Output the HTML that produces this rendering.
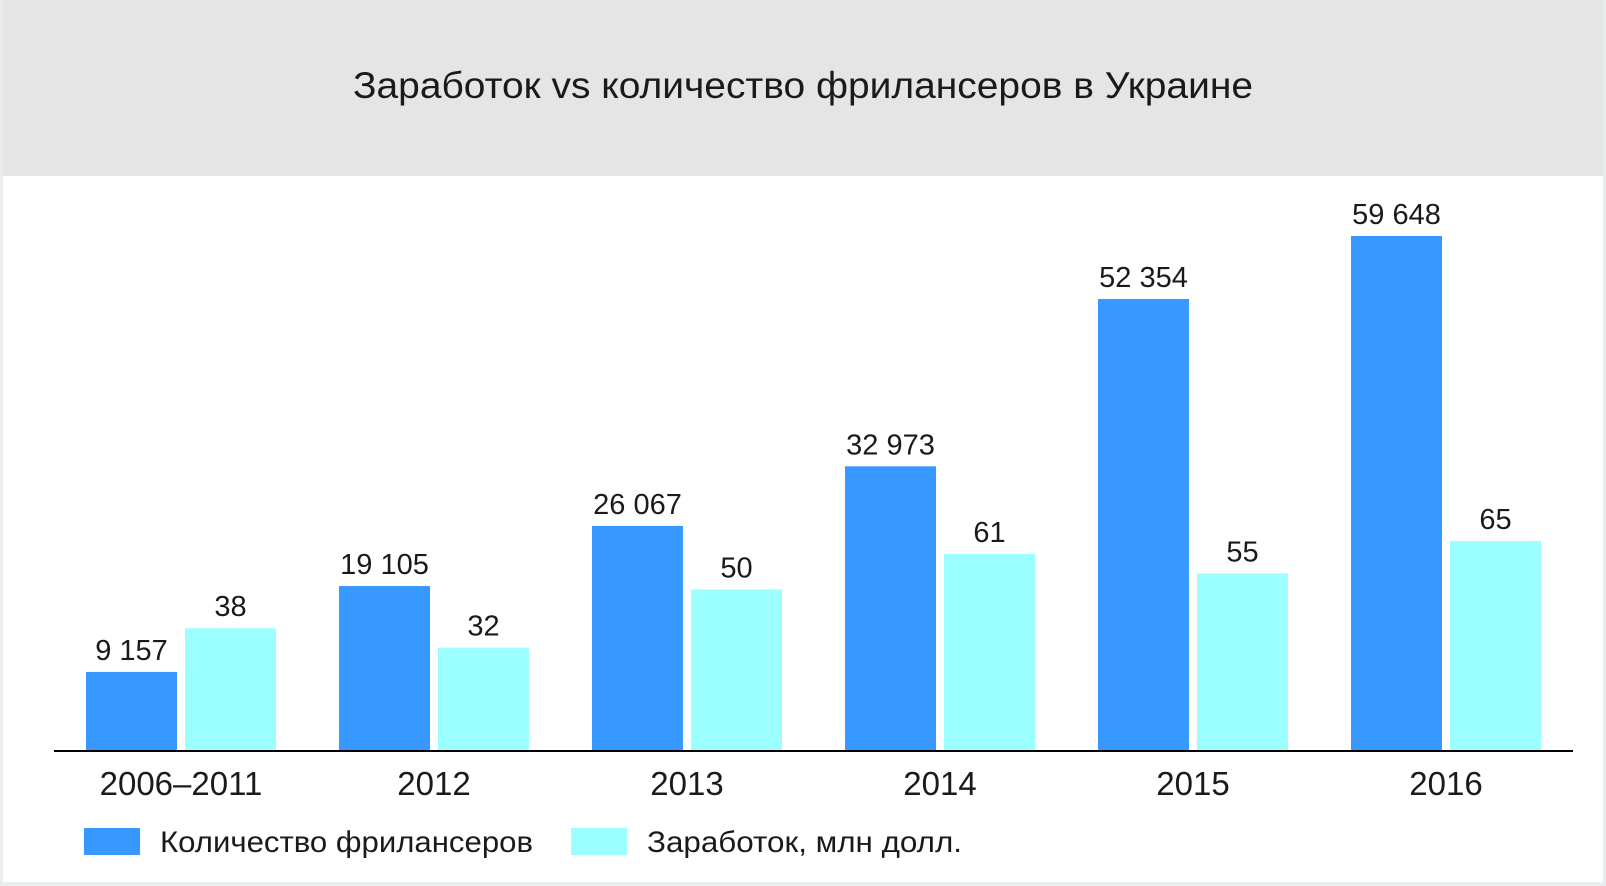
<!DOCTYPE html>
<html><head><meta charset="utf-8"><style>
body{margin:0;width:1606px;height:886px;background:#e9eded;overflow:hidden;font-family:"Liberation Sans",sans-serif}
#card{position:absolute;left:3px;top:0;width:1600px;height:882px;background:#fff}
</style></head><body>
<div id="card">
<svg id="chart" width="1600" height="882" style="position:absolute;left:0;top:0">
<rect x="0" y="0" width="1600" height="176" fill="#e5e5e5"/>
<text x="800" y="98" text-anchor="middle" font-size="37" textLength="900" lengthAdjust="spacingAndGlyphs" fill="#1a1a1a">Заработок vs количество фрилансеров в Украине</text>
<g id="bars"></g>
<line x1="51" y1="751" x2="1570" y2="751" stroke="#000" stroke-width="2"/>
<rect x="81" y="828" width="56" height="27" fill="#3798ff"/>
<text x="157" y="852" font-size="30" textLength="373" lengthAdjust="spacingAndGlyphs" fill="#1a1a1a">Количество фрилансеров</text>
<rect x="568" y="828" width="56" height="27" fill="#9cffff"/>
<text x="644" y="852" font-size="30" textLength="315" lengthAdjust="spacingAndGlyphs" fill="#1a1a1a">Заработок, млн долл.</text>
</svg>
</div>
<script>
const categories=["2006–2011","2012","2013","2014","2015","2016"];
const freelancers=[9157,19105,26067,32973,52354,59648];
const earnings=[38,32,50,61,55,65];
const freelancerLabels=["9 157","19 105","26 067","32 973","52 354","59 648"];
const NS="http://www.w3.org/2000/svg";
const g=document.getElementById('bars');
const baseY=751;
function yF(v){return baseY-v*(515/59648);}
function yE(v){return baseY-v*(210/65);}
function xGroup(i){return 83+i*253;}
const bw=91;
function mk(tag,attrs){const e=document.createElementNS(NS,tag);for(const k in attrs)e.setAttribute(k,attrs[k]);g.appendChild(e);return e;}
categories.forEach((c,i)=>{
 const x0=xGroup(i);
 const yb=yF(freelancers[i]);
 const b=mk('rect',{x:x0,y:yb,width:bw,height:baseY-yb,fill:'#3798ff'});
 
 
 const t=mk('text',{x:x0+bw/2,y:yb-12,'text-anchor':'middle','font-size':29,fill:'#1a1a1a'});
 t.textContent=freelancerLabels[i];
 
 
 const x1=x0+99;
 const ye=yE(earnings[i]);
 const b2=mk('rect',{x:x1,y:ye,width:bw,height:baseY-ye,fill:'#9cffff'});
 
 
 const t2=mk('text',{x:x1+bw/2,y:ye-12,'text-anchor':'middle','font-size':29,fill:'#1a1a1a'});
 t2.textContent=String(earnings[i]);
 
 
 const cl=mk('text',{x:x0+95,y:795,'text-anchor':'middle','font-size':33,fill:'#1a1a1a'});
 cl.textContent=c;
 
 
});
</script>
</body></html>
